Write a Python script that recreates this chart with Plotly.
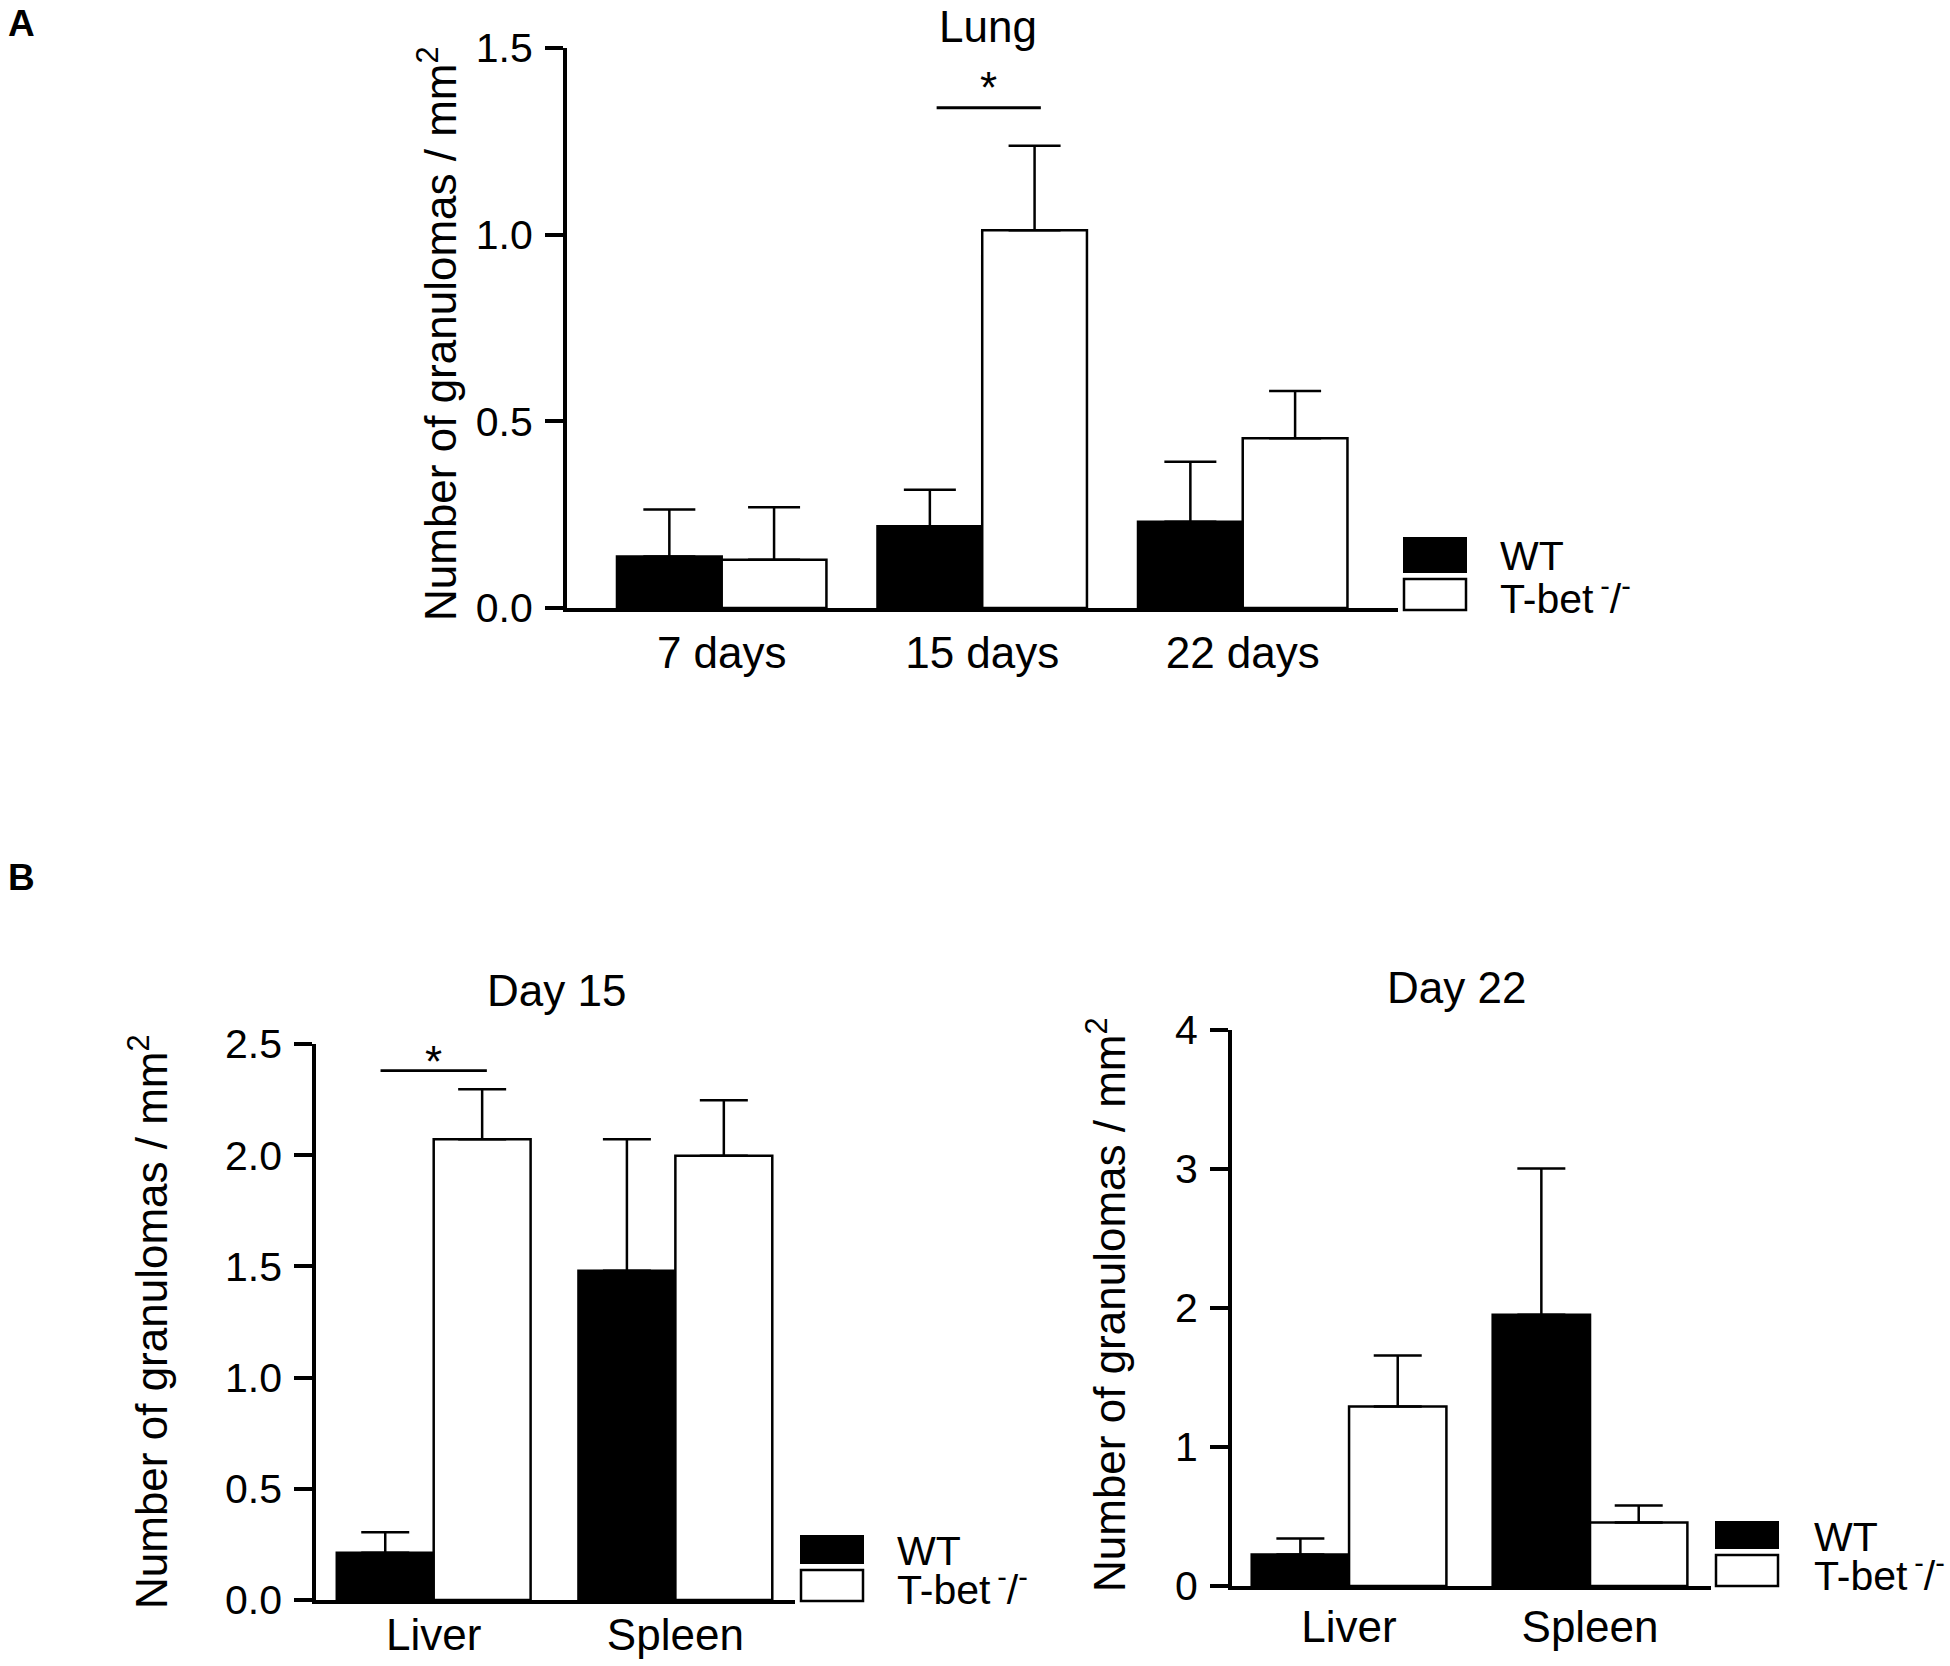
import plotly.graph_objects as go

W, H = 1950, 1666

# ---- data ----
# panel A: lung
lung_days = ["7 days", "15 days", "22 days"]
lung_wt = [0.138, 0.219, 0.231]
lung_wt_sem = [0.126, 0.098, 0.161]
lung_ko = [0.129, 1.012, 0.455]
lung_ko_sem = [0.141, 0.226, 0.126]

# panel B: liver / spleen
organs = ["Liver", "Spleen"]
d15_wt = [0.212, 1.481]
d15_wt_sem = [0.093, 0.591]
d15_ko = [2.072, 1.998]
d15_ko_sem = [0.224, 0.249]

d22_wt = [0.226, 1.951]
d22_wt_sem = [0.115, 1.052]
d22_ko = [1.292, 0.456]
d22_ko_sem = [0.367, 0.124]

# significance brackets: (category, height of bar)
lung_sig = ("15 days", 1.34)
d15_sig = ("Liver", 2.38)

FONT = "Liberation Sans, Arial, Helvetica, sans-serif"
YTITLE = "Number of granulomas / mm<sup>2</sup>"
WT_NAME = "WT"
KO_NAME = "T-bet\u2006<sup>-</sup>/<sup>-</sup>"


def px(x):
    return x / W


def py(y):
    return 1 - y / H


fig = go.Figure()


def add_pair(cats, wt, wt_sem, ko, ko_sem, xa, ya, bw, capw):
    fig.add_bar(x=cats, y=wt, xaxis=xa, yaxis=ya, offset=-bw, width=bw,
                marker=dict(color="black", line=dict(color="black", width=2.5)),
                error_y=dict(type="data", symmetric=False, array=wt_sem,
                             arrayminus=[0] * len(wt), color="black",
                             thickness=2.5, width=capw),
                showlegend=False, hoverinfo="skip")
    fig.add_bar(x=cats, y=ko, xaxis=xa, yaxis=ya, offset=0, width=bw,
                marker=dict(color="white", line=dict(color="black", width=2.5)),
                error_y=dict(type="data", symmetric=False, array=ko_sem,
                             arrayminus=[0] * len(ko), color="black",
                             thickness=2.5, width=capw),
                showlegend=False, hoverinfo="skip")


add_pair(lung_days, lung_wt, lung_wt_sem, lung_ko, lung_ko_sem, "x", "y", 0.402, 26)
add_pair(organs, d15_wt, d15_wt_sem, d15_ko, d15_ko_sem, "x2", "y2", 0.401, 24)
add_pair(organs, d22_wt, d22_wt_sem, d22_ko, d22_ko_sem, "x3", "y3", 0.404, 24)

base = dict(showline=True, linecolor="black", linewidth=3.5, showgrid=False,
            zeroline=False, fixedrange=True, color="black", automargin=False)
xbase = dict(ticks="", tickfont=dict(size=44, color="black"), **base)
ybase = dict(ticks="outside", ticklen=18, tickwidth=3.5, tickcolor="black",
             tickfont=dict(size=41, color="black"), ticklabelstandoff=4, **base)

fig.update_layout(
    width=W, height=H, autosize=False,
    margin=dict(l=0, r=0, t=0, b=0, pad=0),
    paper_bgcolor="white", plot_bgcolor="white",
    font=dict(family=FONT, color="black", size=41),
    barmode="overlay", showlegend=False,
    xaxis=dict(domain=[px(566.7), px(1398)], range=[-0.595, 2.596], anchor="y",
               ticklabelstandoff=3, **xbase),
    yaxis=dict(domain=[py(608), py(48)], range=[0, 1.5], anchor="x",
               dtick=0.5, tickformat=".1f", **ybase),
    xaxis2=dict(domain=[px(316), px(795)], range=[-0.487, 1.495], anchor="y2",
                ticklabelstandoff=-7, **xbase),
    yaxis2=dict(domain=[py(1600), py(1044)], range=[0, 2.5], anchor="x2",
                dtick=0.5, tickformat=".1f", **ybase),
    xaxis3=dict(domain=[px(1231.7), px(1711)], range=[-0.487, 1.502], anchor="y3",
                ticklabelstandoff=-1, **xbase),
    yaxis3=dict(domain=[py(1586), py(1030)], range=[0, 4], anchor="x3",
                dtick=1, tickformat="d", **ybase),
)

ann = []
shapes = []

# panel letters
ann.append(dict(text="<b>A</b>", x=px(6), y=py(24), xanchor="left", yanchor="middle",
                font=dict(size=37)))
ann.append(dict(text="<b>B</b>", x=px(6), y=py(878), xanchor="left", yanchor="middle",
                font=dict(size=37)))

# panel titles
ann.append(dict(text="Lung", x=px(988), y=1, xanchor="center", yanchor="top",
                font=dict(size=44)))
for txt, cx, cy in [("Day 15", 556, 990), ("Day 22", 1456, 987)]:
    ann.append(dict(text=txt, x=px(cx), y=py(cy), xanchor="center", yanchor="middle",
                    font=dict(size=44)))

# y-axis titles
for cx, cy in [(437, 334), (148, 1322), (1106, 1305)]:
    ann.append(dict(text=YTITLE, x=px(cx), y=py(cy), xanchor="center", yanchor="middle",
                    textangle=-90, font=dict(size=44)))

# legends drawn as boxes + labels:
# (box left, black top, black bottom, white top, white bottom, text x, WT y, KO y)
legends = [
    (1404, 538, 572, 579, 610, 1498, 556, 596),
    (801, 1536, 1563, 1570, 1601, 895, 1551, 1587),
    (1716, 1522, 1548, 1555, 1586, 1812, 1537, 1573),
]
for bx, bt, bb, wt_, wb, tx, ty1, ty2 in legends:
    shapes.append(dict(type="rect", xref="paper", yref="paper",
                       x0=px(bx), x1=px(bx + 62), y0=py(bb), y1=py(bt),
                       fillcolor="black", line=dict(color="black", width=2)))
    shapes.append(dict(type="rect", xref="paper", yref="paper",
                       x0=px(bx), x1=px(bx + 62), y0=py(wb), y1=py(wt_),
                       fillcolor="white", line=dict(color="black", width=2.5)))
    ann.append(dict(text=WT_NAME, x=px(tx), y=py(ty1), xanchor="left",
                    yanchor="middle", font=dict(size=41)))
    ann.append(dict(text=KO_NAME, x=px(tx), y=py(ty2), xanchor="left",
                    yanchor="middle", font=dict(size=41)))

# significance brackets
for (cat, yv), cats, xr, yr, off, half, gap in [
        (lung_sig, lung_days, "x", "y", 0.025, 0.2, 30),
        (d15_sig, organs, "x2", "y2", 0.0, 0.22, 19)]:
    i = cats.index(cat)
    shapes.append(dict(type="line", xref=xr, yref=yr, x0=i + off - half, x1=i + off + half,
                       y0=yv, y1=yv, line=dict(color="black", width=2.8)))
    ann.append(dict(text="*", xref=xr, yref=yr, x=i + off, y=yv, xanchor="center",
                    yanchor="middle", yshift=gap - 10, showarrow=False,
                    font=dict(size=44)))

for a in ann:
    a.setdefault("xref", "paper")
    a.setdefault("yref", "paper")
    a.setdefault("showarrow", False)

fig.update_layout(annotations=ann, shapes=shapes)

fig.write_html("out.html", config={"displayModeBar": False},
               post_script="document.body.style.margin='0';")
